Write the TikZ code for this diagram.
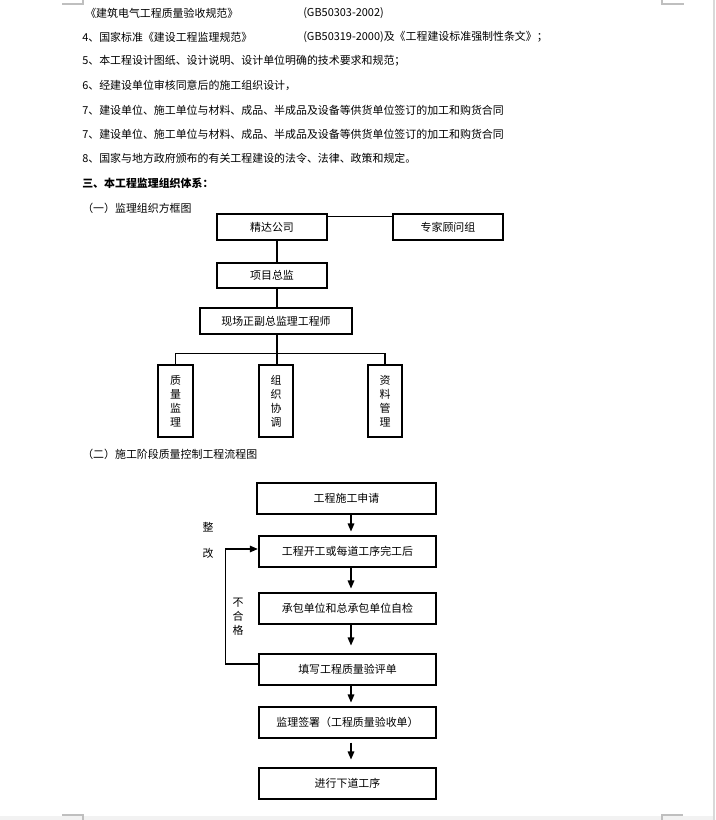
\documentclass[tikz,border=0pt]{standalone}
\usepackage{fontspec}
\setmainfont{Noto Sans CJK SC}
\usetikzlibrary{arrows.meta,calc}
\begin{document}
\begin{tikzpicture}[x=0.75pt,y=-0.75pt,
  ln/.style={line width=0.8pt},
  box/.style={draw, line width=0.8pt, inner sep=0pt, font=\fontsize{8.2}{10}\selectfont},
  wbox/.style={box, minimum width=132.75pt, minimum height=23.25pt},
  vbox/.style={box, align=center, minimum height=54pt, font=\fontsize{8.2}{10.5}\selectfont},
  txt/.style={anchor=west, inner sep=0pt, font=\fontsize{8.2}{10}\selectfont},
  lbl/.style={inner sep=0pt, font=\fontsize{8.2}{10}\selectfont},
  arr/.style={ln, -{Triangle[length=6pt,width=5pt]}, shorten >=3pt},
  pagemark/.style={draw=black!25, line width=0.8pt}]
\useasboundingbox (0,0) rectangle (715,820);
% page decorations
\fill[black!5] (0,816) rectangle (715,820);
\fill[black!15] (712.5,0) rectangle (715,820);
\draw[pagemark] (62,4) -- (83,4) -- (83,0);
\draw[pagemark] (662,0) -- (662,4) -- (684,4);
\draw[pagemark] (62,815) -- (83,815) -- (83,820);
\draw[pagemark] (683,815) -- (662,815) -- (662,820);
% text lines
\node[txt] (t1) at (85,13) {《建筑电气工程质量验收规范》};
\node[txt] (t1b) at (303,13) {(GB50303-2002)};
\node[txt] (t2) at (82,37) {4、国家标准《建设工程监理规范》};
\node[txt] (t2b) at (303,37) {(GB50319-2000)及《工程建设标准强制性条文》；};
\node[txt] (t3) at (82,61) {5、本工程设计图纸、设计说明、设计单位明确的技术要求和规范；};
\node[txt] (t4) at (82,85) {6、经建设单位审核同意后的施工组织设计，};
\node[txt] (t5) at (82,110) {7、建设单位、施工单位与材料、成品、半成品及设备等供货单位签订的加工和购货合同};
\node[txt] (t6) at (82,134) {7、建设单位、施工单位与材料、成品、半成品及设备等供货单位签订的加工和购货合同};
\node[txt] (t7) at (82,158) {8、国家与地方政府颁布的有关工程建设的法令、法律、政策和规定。};
\node[txt, font=\fontsize{8.2}{10}\selectfont\bfseries] (t8) at (82,183) {三、本工程监理组织体系：};
\node[txt] (t9) at (82,208) {（一）监理组织方框图};
\node[txt] (t10) at (82,454) {（二）施工阶段质量控制工程流程图};
% chart 1
\node[box, minimum width=82.5pt, minimum height=19.5pt] (jd) at (272,227) {精达公司};
\node[box, minimum width=82.5pt, minimum height=19.5pt] (zj) at (448,227) {专家顾问组};
\node[box, minimum width=82.5pt, minimum height=18.75pt] (xm) at (272,275.5) {项目总监};
\node[box, minimum width=114pt, minimum height=19.5pt] (xc) at (276,321) {现场正副总监理工程师};
\node[vbox, minimum width=26.25pt] (zl) at (175.5,401) {质\\量\\监\\理};
\node[vbox, minimum width=25.5pt] (zz) at (276,401) {组\\织\\协\\调};
\node[vbox, minimum width=25.5pt] (zk) at (385,401) {资\\料\\管\\理};
\coordinate (cx) at (277,0);
\draw[ln] ($(jd.north east)+(0,3)$) -- ($(zj.north west)+(0,3)$);
\draw[ln] (jd.south -| cx) -- (xm.north -| cx);
\draw[ln] (xm.south -| cx) -- (xc.north -| cx);
\draw[ln] (xc.south -| cx) -- (zz.north -| cx);
\draw[ln] (zl.north) -- ++(0,-11) -| (zk.north);
% chart 2
\node[wbox, minimum width=134.25pt] (b1) at (346.5,498.5) {工程施工申请};
\node[wbox] (b2) at (347.5,551.5) {工程开工或每道工序完工后};
\node[wbox] (b3) at (347.5,608.5) {承包单位和总承包单位自检};
\node[wbox] (b4) at (347.5,669.5) {填写工程质量验评单};
\node[wbox] (b5) at (347.5,722.5) {监理签署（工程质量验收单）};
\node[wbox] (b6) at (347.5,783.5) {进行下道工序};
\coordinate (ax) at (351,0);
\draw[arr] (b1.south -| ax) -- (b2.north -| ax);
\draw[arr] (b2.south -| ax) -- (b3.north -| ax);
\draw[arr, shorten >=6pt] (b3.south -| ax) -- (b4.north -| ax);
\draw[arr] (b4.south -| ax) -- (b5.north -| ax);
\draw[arr, shorten >=6pt, shorten <=3pt] (b5.south -| ax) -- (b6.north -| ax);
\draw[arr, shorten >=0.5pt] ($(b4.west)+(0,-5.5)$) -- ++(-33,0) |- ($(b2.west)+(0,-2.5)$);
\node[lbl] (z1) at (208,527) {整};
\node[lbl] (z2) at (208,553) {改};
\node[lbl, align=center, font=\fontsize{8.2}{10.5}\selectfont] (bh) at (238,617) {不\\合\\格};
\end{tikzpicture}
\end{document}
